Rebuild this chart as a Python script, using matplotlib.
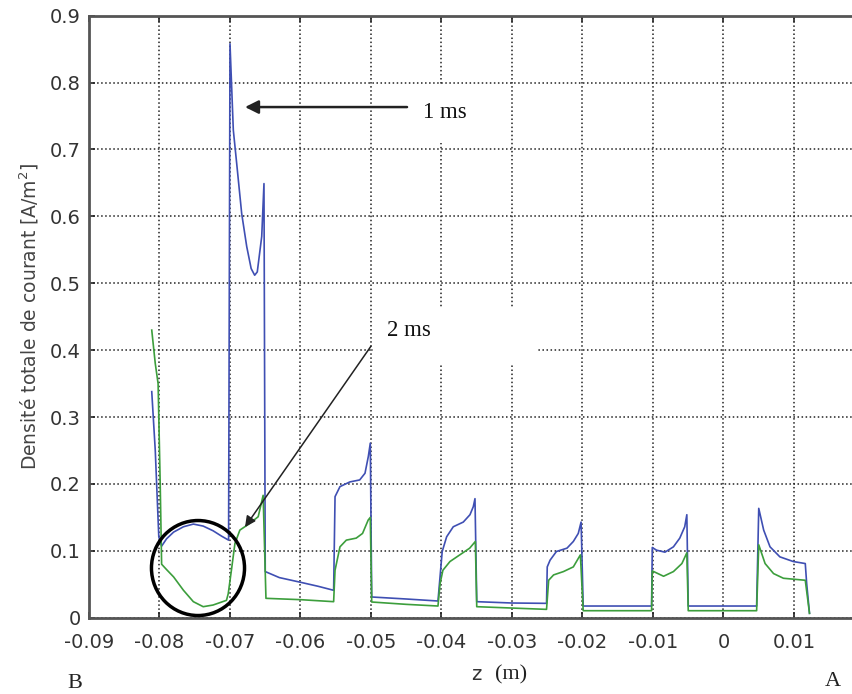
import numpy as np
import matplotlib
matplotlib.use("Agg")
import matplotlib.pyplot as plt
from matplotlib.patches import Rectangle, Ellipse

plt.rcParams['axes.unicode_minus'] = False

# courant total le long de l'axe z, a t = 1 ms (bleu) et t = 2 ms (vert)
z_1ms = [-0.0811, -0.0806, -0.0801, -0.0797, -0.0790, -0.0780, -0.0766, -0.0752,
         -0.0738, -0.0724, -0.0712, -0.0702, -0.0700, -0.06953, -0.06905, -0.06834,
         -0.06763, -0.0670, -0.0665, -0.06613, -0.0655, -0.06518, -0.0650, -0.0630,
         -0.0600, -0.0575, -0.0553, -0.0551, -0.0544, -0.0530, -0.0516, -0.05085,
         -0.05038, -0.0501, -0.0499, -0.0450, -0.0405, -0.0399, -0.03927, -0.03833,
         -0.03691, -0.03596, -0.03549, -0.03525, -0.0350, -0.0300, -0.0251, -0.0250,
         -0.0246, -0.0237, -0.0222, -0.0213, -0.0206, -0.0202, -0.0199, -0.0102,
         -0.0101, -0.0095, -0.0083, -0.0071, -0.0062, -0.0055, -0.0052, -0.0050,
         0.0047, 0.0050, 0.0057, 0.0066, 0.0080, 0.0099, 0.0116, 0.0118, 0.0122]
j_1ms = [0.338, 0.250, 0.121, 0.107, 0.118, 0.128, 0.136, 0.140,
         0.137, 0.130, 0.122, 0.116, 0.858, 0.729, 0.679, 0.604,
         0.555, 0.522, 0.512, 0.517, 0.570, 0.649, 0.069, 0.060,
         0.053, 0.047, 0.041, 0.181, 0.196, 0.203, 0.206, 0.216,
         0.241, 0.261, 0.031, 0.028, 0.025, 0.099, 0.121, 0.136,
         0.143, 0.154, 0.166, 0.178, 0.024, 0.022, 0.0215, 0.076,
         0.086, 0.099, 0.104, 0.114, 0.126, 0.143, 0.0175, 0.0175,
         0.105, 0.101, 0.098, 0.106, 0.119, 0.136, 0.154, 0.0175,
         0.0175, 0.1635, 0.131, 0.106, 0.091, 0.084, 0.081, 0.051, 0.0066]

z_2ms = [-0.0811, -0.0806, -0.0802, -0.0799, -0.0797, -0.0790, -0.0780, -0.0766,
         -0.0752, -0.0738, -0.0724, -0.0705, -0.07025, -0.0698, -0.0693, -0.0686,
         -0.0672, -0.0660, -0.0653, -0.0649, -0.0600, -0.0553, -0.0551, -0.0544,
         -0.0535, -0.0521, -0.0512, -0.0504, -0.0501, -0.0499, -0.0450, -0.0405,
         -0.0402, -0.0398, -0.0388, -0.0374, -0.0360, -0.0352, -0.0350, -0.0251,
         -0.0248, -0.0241, -0.0227, -0.0213, -0.0203, -0.0199, -0.0102, -0.0101,
         -0.0085, -0.0071, -0.0059, -0.0052, -0.0050, 0.0047, 0.0050, 0.0059,
         0.0071, 0.0085, 0.0116, 0.0122]
j_2ms = [0.430, 0.380, 0.350, 0.200, 0.080, 0.072, 0.061, 0.041,
         0.024, 0.0165, 0.019, 0.026, 0.036, 0.071, 0.111, 0.131,
         0.141, 0.151, 0.183, 0.029, 0.027, 0.024, 0.071, 0.106,
         0.116, 0.119, 0.126, 0.146, 0.150, 0.0235, 0.020, 0.0175,
         0.051, 0.071, 0.084, 0.094, 0.104, 0.114, 0.0165, 0.0125,
         0.056, 0.064, 0.069, 0.076, 0.094, 0.0105, 0.0105, 0.070,
         0.062, 0.069, 0.081, 0.097, 0.0105, 0.0105, 0.109, 0.081,
         0.066, 0.059, 0.056, 0.0066]

x_ticks = [-0.09, -0.08, -0.07, -0.06, -0.05, -0.04, -0.03, -0.02, -0.01, 0, 0.01]
x_labels = ['-0.09', '-0.08', '-0.07', '-0.06', '-0.05', '-0.04', '-0.03',
            '-0.02', '-0.01', '0', '0.01']
y_ticks = [0, 0.1, 0.2, 0.3, 0.4, 0.5, 0.6, 0.7, 0.8, 0.9]
y_labels = ['0', '0.1', '0.2', '0.3', '0.4', '0.5', '0.6', '0.7', '0.8', '0.9']

fig = plt.figure(figsize=(8.53, 6.94), dpi=100)
ax = fig.add_axes([89 / 853, 0.1099, 764 / 853, 0.8675])

ax.plot(z_1ms, j_1ms, color='#3f4fb3', lw=1.2)
ax.plot(z_2ms, j_2ms, color='#3c9e3c', lw=1.2)

ax.set_xlim(-0.09, 0.01837)
ax.set_ylim(0, 0.9)
ax.set_xticks(x_ticks)
ax.set_xticklabels(x_labels)
ax.set_yticks(y_ticks)
ax.set_yticklabels(y_labels)
ax.tick_params(axis='both', direction='in', length=4, width=1.2, color='#222222',
               labelsize=14, labelcolor='#333333', top=True)
ax.tick_params(axis='x', pad=11)
ax.tick_params(axis='y', pad=6)
ax.grid(True, linestyle=':', color='#222222', lw=1.1)

for side in ['left', 'bottom', 'top']:
    ax.spines[side].set_color('#555555')
    ax.spines[side].set_linewidth(2)
ax.spines['right'].set_visible(False)

ax.set_ylabel('Densité totale de courant [A/m$^2$]', fontsize=13.5,
              color='#444444', labelpad=6)

# masques blancs derriere les etiquettes (comme sur la figure d'origine)
ax.add_patch(Rectangle((-0.0497, 0.378), 0.0232, 0.086, facecolor='white',
                       edgecolor='none', zorder=1.8))
ax.add_patch(Rectangle((-0.0427, 0.71), 0.0068, 0.087, facecolor='white',
                       edgecolor='none', zorder=1.8))

ax.add_patch(Ellipse((-0.07454, 0.0743), 0.0132, 0.142, facecolor='none',
                     edgecolor='black', lw=2.5, zorder=3))

ax.annotate('', xy=(-0.06787, 0.7634), xytext=(-0.04489, 0.7634),
            arrowprops=dict(arrowstyle='-|>', color='#222222', lw=1.8,
                            mutation_scale=20, shrinkA=0, shrinkB=0), zorder=4)
ax.text(-0.04262, 0.7556, '1 ms', fontsize=16.5, family='Liberation Serif',
        va='center', ha='left', color='#111111')

ax.annotate('', xy=(-0.06787, 0.1356), xytext=(-0.05, 0.406),
            arrowprops=dict(arrowstyle='-|>', color='#222222', lw=1.1,
                            mutation_scale=16, shrinkA=0, shrinkB=0), zorder=4)
ax.text(-0.04773, 0.430, '2 ms', fontsize=16.5, family='Liberation Serif',
        va='center', ha='left', color='#111111')

fig.text(476 / 853, 1 - 675 / 694, 'z', fontsize=14, color='#333333',
         ha='center', va='center')
fig.text(511 / 853, 1 - 675 / 694, '(m)', fontsize=16, family='Liberation Serif',
         color='#222222', ha='center', va='center')
fig.text(75 / 853, 1 - 683 / 694, 'B', fontsize=16, family='Liberation Serif',
         color='#222222', ha='center', va='center')
fig.text(833 / 853, 1 - 681 / 694, 'A', fontsize=16, family='Liberation Serif',
         color='#222222', ha='center', va='center')

fig.savefig('out.png', dpi=100)
